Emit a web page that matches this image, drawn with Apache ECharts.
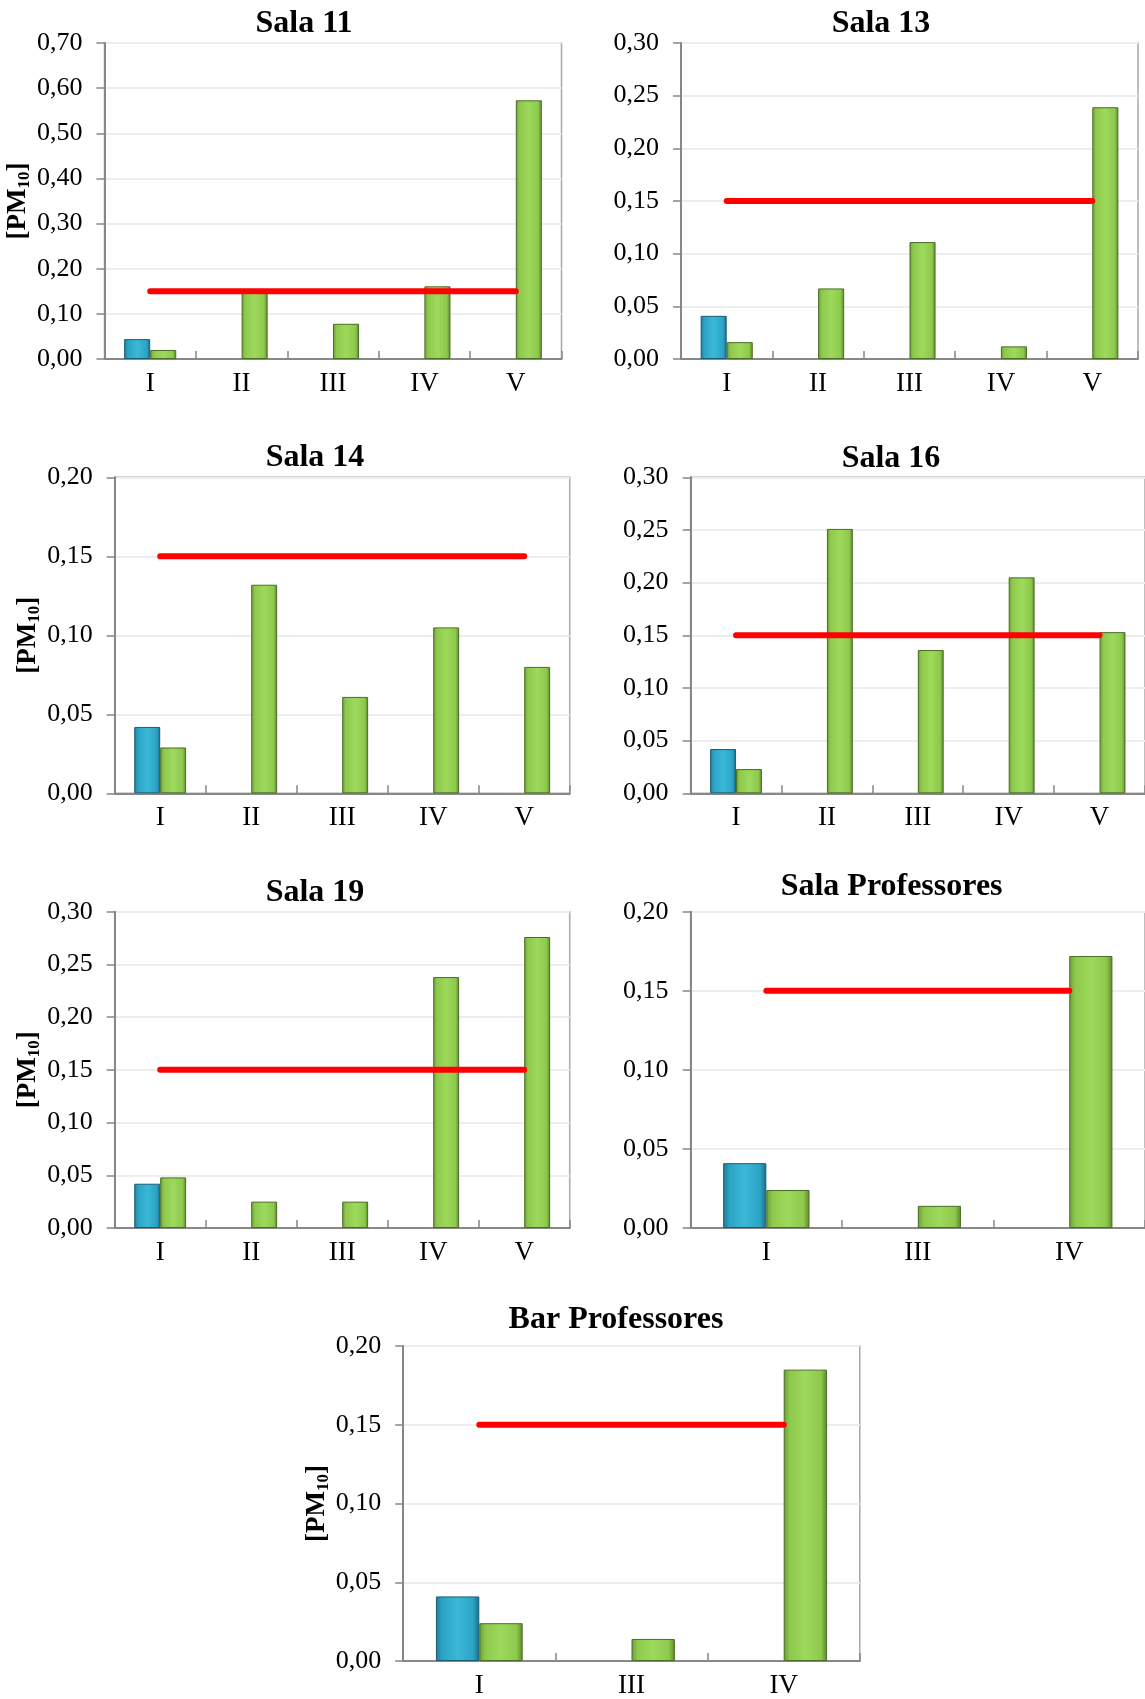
<!DOCTYPE html>
<html>
<head>
<meta charset="utf-8">
<script src="https://cdn.jsdelivr.net/npm/echarts@6/dist/echarts.min.js"></script>
<style>
  html, body { margin: 0; padding: 0; background: #ffffff; }
  #chart { width: 1145px; height: 1699px; }
</style>
</head>
<body>
<div id="chart"></div>
<script>
// Campaign labels
const salaCategories = ['I', 'II', 'III', 'IV', 'V'];
const profCategories = ['I', 'III', 'IV'];

// PM10 concentrations per room (blue = outdoor reference, green = indoor)
const sala11Blue  = [0.044, null, null, null, null];
const sala11Green = [0.020, 0.150, 0.078, 0.161, 0.573];
const sala11Limit = [0.15, 0.15, 0.15, 0.15, 0.15];

const sala13Blue  = [0.041, null, null, null, null];
const sala13Green = [0.016, 0.067, 0.111, 0.012, 0.239];
const sala13Limit = [0.15, 0.15, 0.15, 0.15, 0.15];

const sala14Blue  = [0.042, null, null, null, null];
const sala14Green = [0.029, 0.132, 0.061, 0.105, 0.080];
const sala14Limit = [0.15, 0.15, 0.15, 0.15, 0.15];

const sala16Blue  = [0.042, null, null, null, null];
const sala16Green = [0.023, 0.251, 0.136, 0.205, 0.153];
const sala16Limit = [0.15, 0.15, 0.15, 0.15, 0.15];

const sala19Blue  = [0.042, null, null, null, null];
const sala19Green = [0.048, 0.025, 0.025, 0.238, 0.276];
const sala19Limit = [0.15, 0.15, 0.15, 0.15, 0.15];

const salaProfBlue  = [0.041, null, null];
const salaProfGreen = [0.024, 0.014, 0.172];
const salaProfLimit = [0.15, 0.15, 0.15];

const barProfBlue  = [0.041, null, null];
const barProfGreen = [0.024, 0.014, 0.185];
const barProfLimit = [0.15, 0.15, 0.15];

// Y axis ranges
const yMax      = [0.70, 0.30, 0.20, 0.30, 0.30, 0.20, 0.20];
const yInterval = [0.10, 0.05, 0.05, 0.05, 0.05, 0.05, 0.05];

const titles = ['Sala 11', 'Sala 13', 'Sala 14', 'Sala 16', 'Sala 19', 'Sala Professores', 'Bar Professores'];

const panels = [
  { cats: salaCategories, blue: sala11Blue, green: sala11Green, limit: sala11Limit },
  { cats: salaCategories, blue: sala13Blue, green: sala13Green, limit: sala13Limit },
  { cats: salaCategories, blue: sala14Blue, green: sala14Green, limit: sala14Limit },
  { cats: salaCategories, blue: sala16Blue, green: sala16Green, limit: sala16Limit },
  { cats: salaCategories, blue: sala19Blue, green: sala19Green, limit: sala19Limit },
  { cats: profCategories, blue: salaProfBlue, green: salaProfGreen, limit: salaProfLimit },
  { cats: profCategories, blue: barProfBlue, green: barProfGreen, limit: barProfLimit }
];

// Layout of each small chart on the page
const layout = [
  { left: 104.5, top: 43,    width: 457,   height: 316,   tx: 304,   ty: 23.5,   yName: true  },
  { left: 681,   top: 43,    width: 457,   height: 316,   tx: 881,   ty: 23.5,   yName: false },
  { left: 114.7, top: 477.3, width: 455,   height: 316,   tx: 315,   ty: 458,    yName: true  },
  { left: 690.6, top: 477.3, width: 457,   height: 316,   tx: 891,   ty: 458.5,  yName: false },
  { left: 114.7, top: 911.7, width: 455,   height: 316.3, tx: 315,   ty: 892.5,  yName: true  },
  { left: 690.6, top: 911.7, width: 457,   height: 316.3, tx: 891.6, ty: 887,    yName: false },
  { left: 403.2, top: 1346,  width: 456.6, height: 316.7, tx: 616,   ty: 1319.5, yName: true  }
];

const FONT = '"Liberation Serif", "Times New Roman", serif';

const greenFill = {
  type: 'linear', x: 0, y: 0, x2: 1, y2: 0,
  colorStops: [
    { offset: 0, color: '#6c9c37' },
    { offset: 0.14, color: '#8ec94d' },
    { offset: 0.5, color: '#9dd95b' },
    { offset: 0.86, color: '#8ec94d' },
    { offset: 1, color: '#5c872d' }
  ]
};
const blueFill = {
  type: 'linear', x: 0, y: 0, x2: 1, y2: 0,
  colorStops: [
    { offset: 0, color: '#1f7a95' },
    { offset: 0.14, color: '#2ca3c4' },
    { offset: 0.5, color: '#3ab8d8' },
    { offset: 0.86, color: '#2ca3c4' },
    { offset: 1, color: '#1b6c85' }
  ]
};

const grid = [], xAxis = [], yAxis = [], series = [], graphic = [];

panels.forEach((p, i) => {
  const L = layout[i];
  grid.push({
    left: L.left, top: L.top, width: L.width, height: L.height,
    show: true, borderColor: '#a9a9a9', borderWidth: 1.5, backgroundColor: 'transparent'
  });
  xAxis.push({
    type: 'category', gridIndex: i, data: p.cats, boundaryGap: true,
    axisLine: { show: true, lineStyle: { color: '#878787', width: 2 } },
    axisTick: { show: true, inside: true, length: 8, lineStyle: { color: '#878787', width: 1.5 } },
    axisLabel: { color: '#000', fontFamily: FONT, fontSize: 27, margin: 11 },
    splitLine: { show: false }
  });
  yAxis.push({
    type: 'value', gridIndex: i, min: 0, max: yMax[i], interval: yInterval[i],
    name: L.yName ? '{a|[PM}{b|10}{a|]}' : '',
    nameLocation: 'middle', nameRotate: 90, nameGap: 66,
    nameTextStyle: {
      rich: {
        a: { fontFamily: FONT, fontWeight: 'bold', fontSize: 27, lineHeight: 30, color: '#000' },
        b: { fontFamily: FONT, fontWeight: 'bold', fontSize: 17, lineHeight: 17, color: '#000', verticalAlign: 'bottom' }
      }
    },
    axisLine: { show: true, lineStyle: { color: '#878787', width: 2 } },
    axisTick: { show: true, inside: false, length: 8, lineStyle: { color: '#878787', width: 1.5 } },
    axisLabel: {
      color: '#000', fontFamily: FONT, fontSize: 26, margin: 22,
      formatter: v => v.toFixed(2).replace('.', ',')
    },
    splitLine: { show: true, lineStyle: { color: '#ededed', width: 2 } }
  });
  series.push({
    type: 'bar', xAxisIndex: i, yAxisIndex: i, data: p.blue,
    barGap: '0%', barCategoryGap: '43%',
    itemStyle: { color: blueFill, borderColor: '#1a5d72', borderWidth: 1 },
    z: 2
  });
  series.push({
    type: 'bar', xAxisIndex: i, yAxisIndex: i, data: p.green,
    barGap: '0%', barCategoryGap: '43%',
    itemStyle: { color: greenFill, borderColor: '#4a6d24', borderWidth: 1 },
    z: 2
  });
  series.push({
    type: 'line', xAxisIndex: i, yAxisIndex: i, data: p.limit,
    symbol: 'none', silent: true,
    lineStyle: { color: '#ff0000', width: 6, cap: 'round' },
    z: 5
  });
  graphic.push({
    type: 'text', x: L.tx, y: L.ty, z: 10,
    style: {
      text: titles[i], fill: '#000',
      font: 'bold 32px ' + FONT,
      align: 'center', verticalAlign: 'middle'
    }
  });
});

const chart = echarts.init(document.getElementById('chart'), null, { renderer: 'canvas' });
chart.setOption({
  backgroundColor: '#ffffff',
  animation: false,
  grid, xAxis, yAxis, series, graphic
});
</script>
</body>
</html>
